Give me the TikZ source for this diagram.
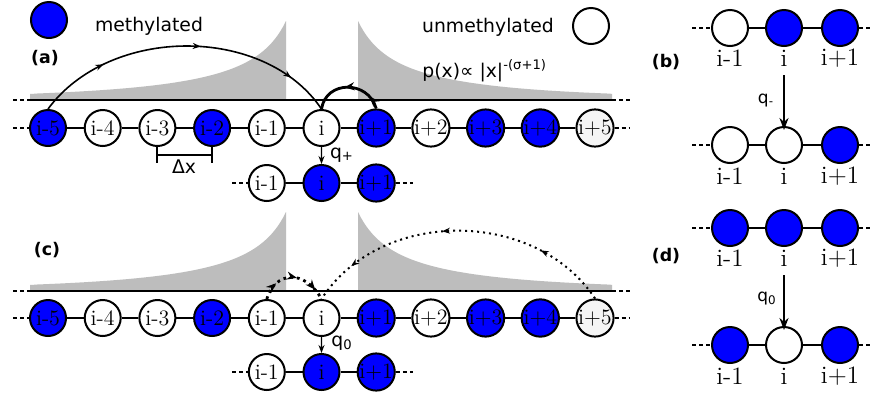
\documentclass[tikz,border=0pt]{standalone}
\usepackage{fontspec}
\newfontfamily\dv{DejaVu Sans}
\newfontfamily\dvb{DejaVu Sans Bold}
\usetikzlibrary{arrows.meta,decorations.markings}
\definecolor{mblue}{RGB}{0,0,255}
\definecolor{dgray}{RGB}{189,189,189}
\definecolor{offw}{RGB}{245,245,245}
\begin{document}
\begin{tikzpicture}[x=0.5pt,y=-0.5pt,
  site/.style={circle,draw=black,line width=1pt,minimum size=18pt,inner sep=0pt,font=\fontsize{11}{11}\selectfont},
  bond/.style={line width=0.7pt},
  ends/.style={line width=1pt,dash pattern=on 2.2pt off 1.3pt},
  axis/.style={line width=1pt},
  sans/.style={font=\dv\fontsize{9.4}{9.4}\selectfont,inner sep=0pt},
  qsmall/.style={font=\dv\fontsize{8.5}{8.5}\selectfont,inner sep=0pt},
  panel/.style={font=\dvb\fontsize{8.7}{8.7}\selectfont,inner sep=0pt},
  sitelab/.style={font=\fontsize{12.5}{12.5}\selectfont,inner sep=0pt},
  distr/.style={fill=dgray},
  tip/.style={-{Stealth[length=4pt,width=3pt]}},
  bigtip/.style={-{Stealth[length=6pt,width=4.5pt]},line width=1.4pt},
  marks/.style={postaction=decorate,decoration={markings,
     mark=at position 0.23 with {\arrow{Stealth[length=4pt,width=3pt]}},
     mark=at position 0.55 with {\arrow{Stealth[length=4pt,width=3pt]}},
     mark=at position 0.86 with {\arrow{Stealth[length=4pt,width=3pt]}}}},
  smallmarks/.style={postaction=decorate,decoration={markings,
     mark=at position 0.18 with {\arrow{Stealth[length=5pt,width=4pt]}},
     mark=at position 0.55 with {\arrow{Stealth[length=5pt,width=4pt]}}}},
  tinymarks/.style={postaction=decorate,decoration={markings,
     mark=at position 0.25 with {\arrow{Stealth[length=5pt,width=4pt]}},
     mark=at position 0.55 with {\arrow{Stealth[length=5pt,width=4pt]}},
     mark=at position 0.85 with {\arrow{Stealth[length=5pt,width=4pt]}}}},
]
\useasboundingbox (0,0) rectangle (873,397);
\fill[white] (0,0) rectangle (873,397);

% ---------- legend ----------
\node[site,fill=mblue] (legm) at (49,20) {};
\node[sans] (legmt) at (149,26) {methylated};
\node[sans] (legut) at (488,27) {unmethylated};
\node[site,fill=white] (legu) at (591,26) {};

% ---------- panel (a) ----------
\node[panel] (pa) at (45,58) {(a)};
\fill[distr] (30,100) -- plot[domain=292:36,samples=90] ({322-\x},{100-79*(36/\x)^(0.95+0.28*(\x-36)/256)}) -- (286,100) -- cycle;
\fill[distr] (358,100) -- plot[domain=36:290,samples=90] ({322+\x},{100-79*(36/\x)^(0.95+0.28*(\x-36)/256)}) -- (612,100) -- cycle;
\node[sans,anchor=west] (px) at (422,71) {p(x)∝ |x|\textsuperscript{-(σ+1)}};

\coordinate (axaL) at (13,100);
\coordinate (axa1) at (30,100);
\coordinate (axa2) at (612,100);
\coordinate (axaR) at (630,100);
\draw[ends] (axaL) -- (axa1);
\draw[axis] (axa1) -- (axa2);
\draw[ends] (axa2) -- (axaR);

\foreach \lab/\fc [count=\n] in {i-5/mblue,i-4/white,i-3/white,i-2/mblue,i-1/white,i/white,i+1/mblue,i+2/white,i+3/mblue,i+4/mblue,i+5/offw}
  \node[site,fill=\fc] (a\n) at ({48+54.7*(\n-1)},128) {\lab};
\foreach \n in {1,...,10}{\pgfmathtruncatemacro\m{\n+1}\draw[bond] (a\n) -- (a\m);}
\coordinate (aL) at (13,128);
\coordinate (aR) at (630,128);
\draw[ends] (aL) -- (a1);
\draw[ends] (a11) -- (aR);

\draw[line width=0.8pt,marks] (a1.north) .. controls (110,25) and (265,25) .. (a6.north);
\draw[line width=1.4pt,smallmarks] (a7.north) .. controls (368,80) and (326,80) .. (a6.north);

% delta x
\draw[line width=0.8pt] (157,145) -- (157,163);
\draw[line width=0.8pt] (212,145) -- (212,163);
\draw[line width=0.8pt] (157,155) -- (212,155);
\node[sans] (dx) at (184,167) {Δx};

% lower row (a)
\node[site,fill=white] (al1) at (266.8,183) {i-1};
\node[site,fill=mblue] (al2) at (321.5,183) {i};
\node[site,fill=mblue] (al3) at (376.2,183) {i+1};
\draw[bond] (al1) -- (al2);
\draw[bond] (al2) -- (al3);
\coordinate (alL) at (232,183);
\coordinate (alR) at (413,183);
\draw[ends] (alL) -- (al1);
\draw[ends] (al3) -- (alR);
\draw[tip,line width=0.7pt] (a6) -- (al2);
\node[sans] (qp) at (342,155) {q\textsubscript{+}};

% ---------- panel (c) ----------
\node[panel] (pc) at (47,250) {(c)};
\fill[distr] (30,291) -- plot[domain=292:36,samples=90] ({322-\x},{291-79*(36/\x)^(0.95+0.28*(\x-36)/256)}) -- (286,291) -- cycle;
\fill[distr] (358,291) -- plot[domain=36:290,samples=90] ({322+\x},{291-79*(36/\x)^(0.95+0.28*(\x-36)/256)}) -- (612,291) -- cycle;

\coordinate (axcL) at (13,291);
\coordinate (axc1) at (30,291);
\coordinate (axc2) at (612,291);
\coordinate (axcR) at (630,291);
\draw[ends] (axcL) -- (axc1);
\draw[axis] (axc1) -- (axc2);
\draw[ends] (axc2) -- (axcR);

\foreach \lab/\fc [count=\n] in {i-5/mblue,i-4/white,i-3/white,i-2/mblue,i-1/white,i/white,i+1/mblue,i+2/white,i+3/mblue,i+4/mblue,i+5/offw}
  \node[site,fill=\fc] (c\n) at ({48+54.7*(\n-1)},318) {\lab};
\foreach \n in {1,...,10}{\pgfmathtruncatemacro\m{\n+1}\draw[bond] (c\n) -- (c\m);}
\coordinate (cL) at (13,318);
\coordinate (cR) at (630,318);
\draw[ends] (cL) -- (c1);
\draw[ends] (c11) -- (cR);

\draw[line width=1pt,dotted,marks] (c11.north) .. controls (535,208) and (380,208) .. (c6.north);
\draw[line width=1.4pt,dotted,tinymarks] (c5.north) .. controls (275,271) and (305,269) .. (c6.north);

% lower row (c)
\node[site,fill=white] (cl1) at (266.8,372) {i-1};
\node[site,fill=mblue] (cl2) at (321.5,372) {i};
\node[site,fill=mblue] (cl3) at (376.2,372) {i+1};
\draw[bond] (cl1) -- (cl2);
\draw[bond] (cl2) -- (cl3);
\coordinate (clL) at (232,372);
\coordinate (clR) at (413,372);
\draw[ends] (clL) -- (cl1);
\draw[ends] (cl3) -- (clR);
\draw[tip,line width=0.7pt] (c6) -- (cl2);
\node[sans] (q0c) at (342,343) {q\textsubscript{0}};

% ---------- panel (b) ----------
\node[panel] (pb) at (666,62) {(b)};
\node[site,fill=white] (b1) at (730,28) {};
\node[site,fill=mblue] (b2) at (784,28) {};
\node[site,fill=mblue] (b3) at (840,28) {};
\node[site,fill=white] (b4) at (730,145) {};
\node[site,fill=white] (b5) at (784,145) {};
\node[site,fill=mblue] (b6) at (840,145) {};
\draw[bond] (b1) -- (b2); \draw[bond] (b2) -- (b3);
\draw[bond] (b4) -- (b5); \draw[bond] (b5) -- (b6);
\coordinate (bL1) at (692,28); \coordinate (bR1) at (873,28);
\coordinate (bL2) at (692,145); \coordinate (bR2) at (873,145);
\draw[ends] (bL1) -- (b1); \draw[ends] (b3) -- (bR1);
\draw[ends] (bL2) -- (b4); \draw[ends] (b6) -- (bR2);
\node[sitelab] (b1l) at (730,58) {i-1};
\node[sitelab] (b2l) at (784,58) {i};
\node[sitelab] (b3l) at (840,58) {i+1};
\node[sitelab] (b4l) at (730,176) {i-1};
\node[sitelab] (b5l) at (784,176) {i};
\node[sitelab] (b6l) at (840,176) {i+1};
\coordinate (bA1) at (784,75); \coordinate (bA2) at (784,130);
\draw[bigtip] (bA1) -- (bA2);
\node[qsmall] (qm) at (766,101) {q\textsubscript{-}};

% ---------- panel (d) ----------
\node[panel] (pd) at (666,256) {(d)};
\node[site,fill=mblue] (d1) at (730,228) {};
\node[site,fill=mblue] (d2) at (784,228) {};
\node[site,fill=mblue] (d3) at (840,228) {};
\node[site,fill=mblue] (d4) at (730,345) {};
\node[site,fill=white] (d5) at (784,345) {};
\node[site,fill=mblue] (d6) at (840,345) {};
\draw[bond] (d1) -- (d2); \draw[bond] (d2) -- (d3);
\draw[bond] (d4) -- (d5); \draw[bond] (d5) -- (d6);
\coordinate (dL1) at (692,228); \coordinate (dR1) at (873,228);
\coordinate (dL2) at (692,345); \coordinate (dR2) at (873,345);
\draw[ends] (dL1) -- (d1); \draw[ends] (d3) -- (dR1);
\draw[ends] (dL2) -- (d4); \draw[ends] (d6) -- (dR2);
\node[sitelab] (d1l) at (730,258) {i-1};
\node[sitelab] (d2l) at (784,258) {i};
\node[sitelab] (d3l) at (840,258) {i+1};
\node[sitelab] (d4l) at (730,376) {i-1};
\node[sitelab] (d5l) at (784,376) {i};
\node[sitelab] (d6l) at (840,376) {i+1};
\coordinate (dA1) at (784,275); \coordinate (dA2) at (784,330);
\draw[bigtip] (dA1) -- (dA2);
\node[qsmall] (q0d) at (767,298) {q\textsubscript{0}};
\end{tikzpicture}
\end{document}
